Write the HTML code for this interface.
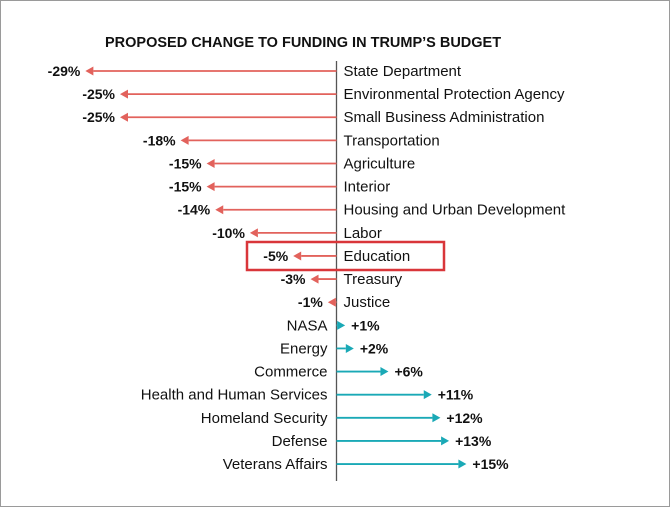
<!DOCTYPE html>
<html><head><meta charset="utf-8"><style>
body{margin:0;background:#fff}
#wrap{position:relative;width:670px;height:507px;box-sizing:border-box;border:1px solid #9a9a9a;overflow:hidden}
svg text{font-family:"Liberation Sans",Arial,sans-serif}
</style></head><body>
<div id="wrap">
<svg id="chart" width="668" height="505">
<text x="104" y="46" font-size="14.5" font-weight="bold" fill="#111">PROPOSED CHANGE TO FUNDING IN TRUMP’S BUDGET</text>
<line x1="335.5" y1="60" x2="335.5" y2="480" stroke="#555" stroke-width="1.3"/>
<rect x="246" y="241" width="197" height="28" fill="none" stroke="#d9363a" stroke-width="2.5"/>
</svg>
</div>
<script>
const categories=["State Department","Environmental Protection Agency","Small Business Administration","Transportation","Agriculture","Interior","Housing and Urban Development","Labor","Education","Treasury","Justice","NASA","Energy","Commerce","Health and Human Services","Homeland Security","Defense","Veterans Affairs"];
const values=[-29,-25,-25,-18,-15,-15,-14,-10,-5,-3,-1,1,2,6,11,12,13,15];
const labels=["-29%","-25%","-25%","-18%","-15%","-15%","-14%","-10%","-5%","-3%","-1%","+1%","+2%","+6%","+11%","+12%","+13%","+15%"];
const svg=document.getElementById('chart');
const NS='http://www.w3.org/2000/svg';
const x0=335.5, k=8.66;
function xs(v){return x0+v*k;}
function ys(i){return 70+i*23.12;}
function mk(t,a){const e=document.createElementNS(NS,t);for(const n in a)e.setAttribute(n,a[n]);svg.appendChild(e);return e;}
values.forEach((v,i)=>{
  const y=ys(i), tip=xs(v), neg=v<0, col=neg?'#e2625c':'#1aa9b6';
  const dir=neg?1:-1;
  const base=tip+dir*8;
  const sh=mk('line',{x1:x0,y1:y,x2:base,y2:y,stroke:col,'stroke-width':1.8});
  
  
  const hd=mk('polygon',{points:`${tip},${y} ${base},${y-4.5} ${base},${y+4.5}`,fill:col});
  
  
  const vl=mk('text',{x:neg?tip-5:tip+6,y:y+5,'font-size':14,'font-weight':'bold',fill:'#111','text-anchor':neg?'end':'start'});
  vl.textContent=labels[i];
  
  
  const cl=mk('text',{x:neg?x0+7:x0-9,y:y+5,'font-size':15,fill:'#111','text-anchor':neg?'start':'end'});
  cl.textContent=categories[i];
  
  
});
</script>
</body></html>
